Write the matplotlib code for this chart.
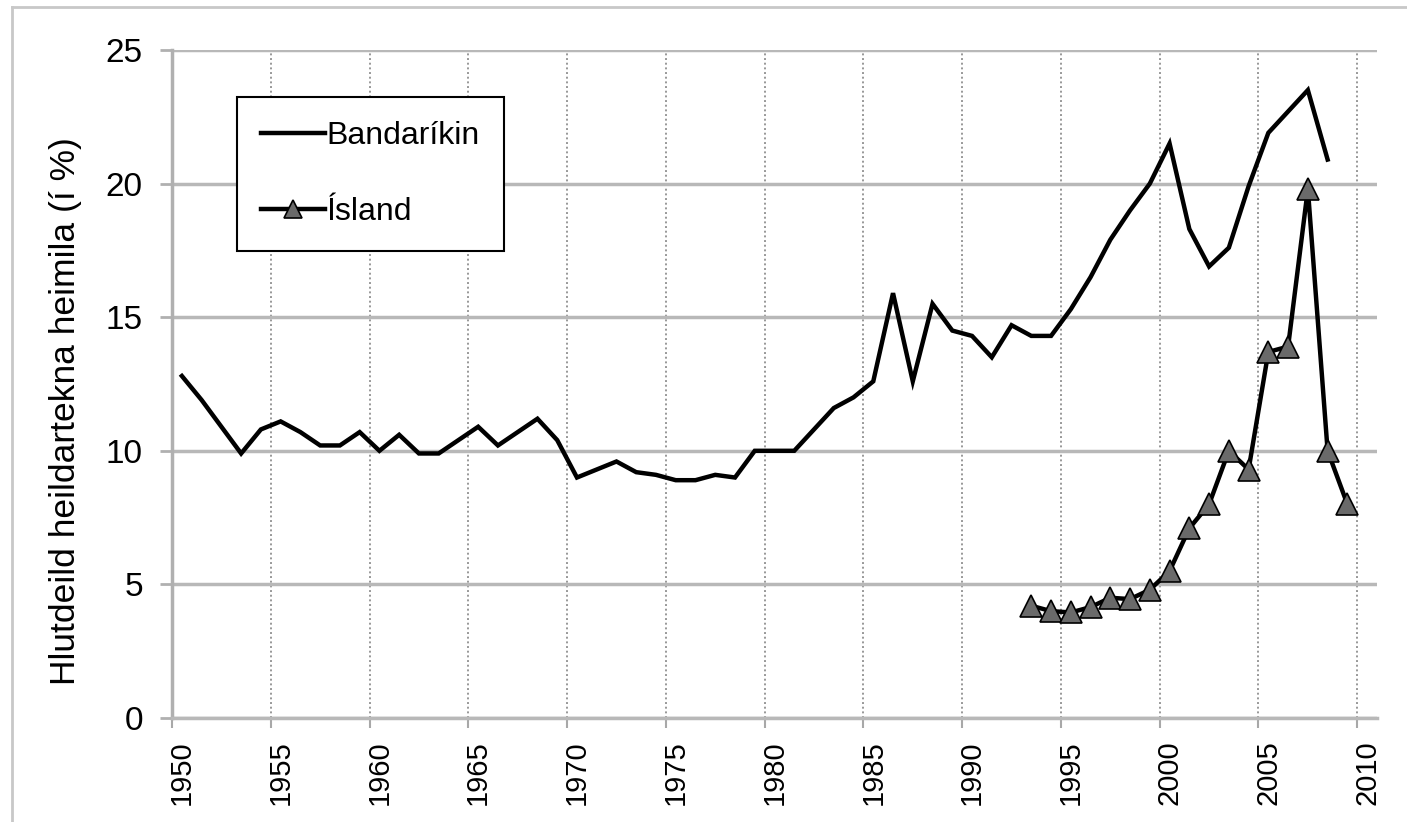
import matplotlib.pyplot as plt
from matplotlib.lines import Line2D

plt.rcParams['font.family'] = ['Liberation Sans', 'DejaVu Sans']

# share of total household income (%)
us_years = list(range(1950, 2009))
us_share = [12.8, 11.9, 10.9, 9.9, 10.8, 11.1, 10.7, 10.2, 10.2, 10.7,
            10.0, 10.6, 9.9, 9.9, 10.4, 10.9, 10.2, 10.7, 11.2, 10.4,
            9.0, 9.3, 9.6, 9.2, 9.1, 8.9, 8.9, 9.1, 9.0, 10.0,
            10.0, 10.0, 10.8, 11.6, 12.0, 12.6, 15.9, 12.6, 15.5, 14.5,
            14.3, 13.5, 14.7, 14.3, 14.3, 15.3, 16.5, 17.9, 19.0, 20.0,
            21.5, 18.3, 16.9, 17.6, 19.9, 21.9, 22.7, 23.5, 20.9]

is_years = list(range(1993, 2010))
is_share = [4.2, 4.0, 3.95, 4.15, 4.5, 4.45, 4.8, 5.5, 7.1, 8.0,
            10.0, 9.3, 13.7, 13.9, 19.8, 10.0, 8.0]

label_years = list(range(1950, 2011, 5))
y_ticks = [0, 5, 10, 15, 20, 25]

fig = plt.figure(figsize=(14.07, 8.22), dpi=100)
ax = fig.add_axes([172 / 1407, 1 - 718 / 822, 1205 / 1407, 668 / 822])

# light frame round the whole chart (only left and top show)
fig.add_artist(Line2D([12 / 1407, 12 / 1407], [0, 1 - 7 / 822], transform=fig.transFigure,
                      color='#c8c8c8', lw=2))
fig.add_artist(Line2D([12 / 1407, 1], [1 - 7 / 822, 1 - 7 / 822], transform=fig.transFigure,
                      color='#c8c8c8', lw=2))

ax.plot(us_years, us_share, color='black', lw=3.2, label='Bandaríkin',
        solid_joinstyle='miter', zorder=3)
ax.plot(is_years, is_share, color='black', lw=3.2, marker='^', markersize=16,
        markerfacecolor='#6a6a6a', markeredgecolor='black', markeredgewidth=1.2,
        label='Ísland', zorder=4)

ax.set_xlim(1949.5, 2010.5)
ax.set_ylim(0, 25)

# category-style axis: labels at the year, ticks and grid between years
ax.set_xticks(label_years)
ax.set_xticklabels([str(y) for y in label_years], rotation=90, fontsize=21)
ax.set_xticks([y - 0.5 for y in label_years], minor=True)
ax.tick_params(axis='x', which='major', length=0, pad=16)
ax.tick_params(axis='x', which='minor', length=7, width=1.5, color='#a8a8a8')
for y in label_years[1:]:
    ax.axvline(y - 0.5, color='#989898', lw=1.4, ls=(0, (1, 1.4)), zorder=1)

ax.set_yticks(y_ticks)
ax.set_yticklabels([str(v) for v in y_ticks], fontsize=24)
ax.tick_params(axis='y', length=9, width=2, color='#b0b0b0', pad=12)
for v in y_ticks:
    ax.axhline(v, color='#b8b8b8', lw=2.5, zorder=1)

for side in ['top', 'right']:
    ax.spines[side].set_visible(False)
ax.spines['left'].set_color('#b0b0b0')
ax.spines['left'].set_linewidth(2.5)
ax.spines['bottom'].set_color('#b8b8b8')
ax.spines['bottom'].set_linewidth(2.5)

ax.set_ylabel('Hlutdeild heildartekna heimila (í %)', fontsize=25.5)
ax.yaxis.set_label_coords(-0.075, 0.46)

leg = ax.legend(loc='upper left', bbox_to_anchor=(0.054, 0.93), borderaxespad=0,
                fontsize=23, frameon=True, fancybox=False, edgecolor='black',
                handlelength=2.0, handletextpad=0.05, labelspacing=1.45,
                borderpad=0.75, markerscale=0.85)
leg.get_frame().set_linewidth(1.5)
leg.get_frame().set_alpha(1)

fig.savefig('out.png', dpi=100)
